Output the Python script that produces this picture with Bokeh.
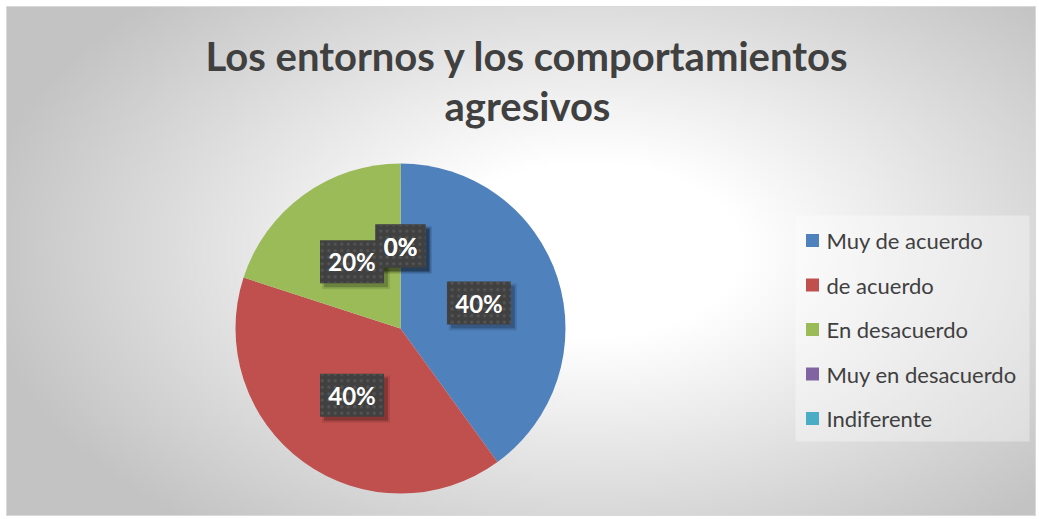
import numpy as np
import pandas as pd
from bokeh.plotting import figure
from bokeh.models import Range1d, ColumnDataSource
from bokeh.embed import file_html
from bokeh.resources import INLINE
from bokeh.core.properties import value

# ---------------- data ----------------
categories = ["Muy de acuerdo", "de acuerdo", "En desacuerdo", "Muy en desacuerdo", "Indiferente"]
percentages = [40, 40, 20, 0, 0]
colors = ["#4f81bd", "#c0504d", "#9bbb59", "#8064a2", "#4bacc6"]
title_lines = ["Los entornos y los comportamientos", "agresivos"]

# ---------------- layout ----------------
W, H = 1036, 516
OFF = 0
BX0, BX1, BY0, BY1 = 6, 1035, 6, 515   # chart area (screen px)


def px(X):
    return X - OFF


def py(Y):
    return H - (Y - OFF)


FONT = "Lato"

p = figure(width=W, height=H, x_range=Range1d(0, W), y_range=Range1d(0, H),
           output_backend="svg", toolbar_location=None, min_border=0)
p.axis.visible = False
p.grid.visible = False
p.outline_line_color = None
p.background_fill_color = "white"
p.border_fill_color = "white"

# radial gradient background
nx, ny = 258, 128
cols = BX0 + (np.arange(nx) + 0.5) * (BX1 - BX0) / nx
rows = BY1 - (np.arange(ny) + 0.5) * (BY1 - BY0) / ny
XX, YY = np.meshgrid(cols, rows)
cx_s, cy_s, rx, ry = 590.0, 250.0, 620.0, 360.0
d = np.sqrt(((XX - cx_s) / rx) ** 2 + ((YY - cy_s) / ry) ** 2)
t = np.clip((d - 0.25) / 0.75, 0, 1)
v = (255 - 60 * t).astype(np.uint32)
img = (255 << 24) | (v << 16) | (v << 8) | v
p.image_rgba(image=[img.astype(np.uint32)], x=px(BX0), y=py(BY1),
             dw=BX1 - BX0, dh=BY1 - BY0)
p.quad(left=px(BX0), right=px(BX1), bottom=py(BY1), top=py(BY0),
       fill_color=None, line_color="#d9d9d9", line_width=1)

# ---------------- pie ----------------
CX, CY, R = px(400), py(328), 165
df = pd.DataFrame({"cat": categories, "pct": percentages, "color": colors})
df["angle"] = df["pct"] / df["pct"].sum() * 2 * np.pi
df["end_cum"] = df["angle"].cumsum()
df["start_cum"] = df["end_cum"] - df["angle"]
df["start"] = np.pi / 2 - df["start_cum"]
df["end"] = np.pi / 2 - df["end_cum"]
df["mid"] = (df["start"] + df["end"]) / 2
src = ColumnDataSource(df[df["pct"] > 0])
p.wedge(x=CX, y=CY, radius=R, start_angle="start", end_angle="end", direction="clock",
        fill_color="color", line_color=None, source=src)

# data labels
lab = pd.DataFrame({
    "text": [f"{v}%" for v in percentages],
    "x": CX + 0.5 * R * np.cos(df["mid"]),
    "y": CY + 0.5 * R * np.sin(df["mid"]),
})
lab["w"] = 22 + 14 * lab["text"].str.len()
lab["h"] = 43
lab["w2"] = lab["w"] + 4
lab["h2"] = lab["h"] + 4
lab["sx"] = lab["x"] + 4
lab["sy"] = lab["y"] - 4
lsrc = ColumnDataSource(lab)
p.rect(x="sx", y="sy", width="w2", height="h2", source=lsrc, fill_color="black",
       fill_alpha=0.10, line_color=None)
p.rect(x="sx", y="sy", width="w", height="h", source=lsrc, fill_color="black",
       fill_alpha=0.22, line_color=None)
p.rect(x="x", y="y", width="w", height="h", source=lsrc, fill_color="#404040",
       line_color=None, hatch_pattern="dot", hatch_color="#555555", hatch_scale=6.5,
       hatch_weight=1)
p.text(x="x", y="y", text="text", source=lsrc, text_color="white",
       text_font=value(FONT), text_font_style="bold", text_font_size="24px",
       text_align="center", text_baseline="middle")

# ---------------- title ----------------
tsrc = ColumnDataSource(dict(x=[px(527)] * 2, y=[py(55), py(105)], text=title_lines))
p.text(x="x", y="y", text="text", source=tsrc, text_color="#404040",
       text_font=value(FONT), text_font_style="bold", text_font_size="40px",
       text_align="center", text_baseline="middle")

# ---------------- legend ----------------
p.quad(left=px(795), right=px(1029), bottom=py(441), top=py(215),
       fill_color="white", fill_alpha=0.35, line_color=None)
leg_y = [py(240 + 44.5 * i) for i in range(len(categories))]
gsrc = ColumnDataSource(dict(x=[px(812)] * len(categories), y=leg_y,
                             tx=[px(826)] * len(categories),
                             color=colors, text=categories))
p.rect(x="x", y="y", width=13, height=13, fill_color="color", line_color=None, source=gsrc)
p.text(x="tx", y="y", text="text", source=gsrc, text_color="#404040",
       text_font=value(FONT), text_font_size="22px", text_align="left",
       text_baseline="middle")

open("out.html", "w").write(file_html(p, INLINE))
